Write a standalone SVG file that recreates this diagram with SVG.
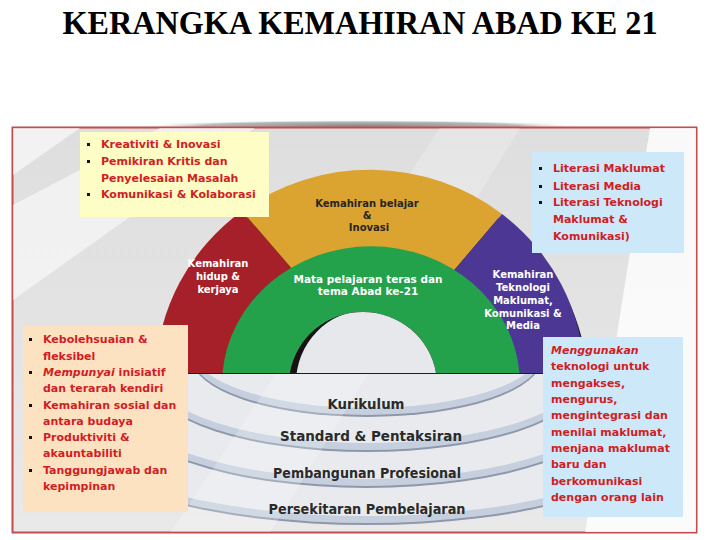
<svg xmlns="http://www.w3.org/2000/svg" width="720" height="540" viewBox="0 0 720 540">
  <defs>
    <style>
      .title{font-family:"Liberation Serif","Times New Roman",serif;font-weight:bold;font-size:33px;fill:#000}
      .bx{font-family:"DejaVu Sans","Verdana",sans-serif;font-weight:bold;font-size:11px;fill:#d11d24}
      .lbl{font-family:"DejaVu Sans","Verdana",sans-serif;font-weight:bold;fill:#fff;text-anchor:middle}
      .dk{fill:#262626}
      .plat{font-family:"DejaVu Sans","Verdana",sans-serif;font-weight:bold;font-size:14px;fill:#2a2a2a;text-anchor:middle}
      .face{fill:#e8eaee}
      .rim{fill:#c5cfde}
      .shd{fill:#8e98aa}
      .bul{fill:#111}
    </style>
    <linearGradient id="bg" x1="0" y1="0" x2="0" y2="1">
      <stop offset="0" stop-color="#dedede"/>
      <stop offset="1" stop-color="#e9e9e9"/>
    </linearGradient>
    <radialGradient id="topShadow" cx="0.5" cy="0.5" r="0.5">
      <stop offset="0" stop-color="#8a8a8a"/>
      <stop offset="0.7" stop-color="#b8b8b8"/>
      <stop offset="1" stop-color="#ffffff" stop-opacity="0"/>
    </radialGradient>
    <clipPath id="frameClip"><rect x="13" y="128" width="683" height="404"/></clipPath>
    <clipPath id="holeClip"><path d="M290,373 A74 73 0 0 1 436,373 Z"/></clipPath>
  </defs>

  <rect width="720" height="540" fill="#fff"/>

  <g id="title">
    <text class="title" x="360" y="34" text-anchor="middle" textLength="595" lengthAdjust="spacingAndGlyphs">KERANGKA KEMAHIRAN ABAD KE 21</text>
  </g>

  <ellipse cx="360" cy="126" rx="225" ry="6" fill="url(#topShadow)"/>

  <g id="frame">
    <rect x="12.5" y="127.5" width="684" height="405" fill="url(#bg)" stroke="#c44b4b" stroke-width="2"/>
    <g clip-path="url(#frameClip)" fill="#fff">
      <polygon points="13,205 13,300 255,128 160,128" opacity="0.55"/>
      <polygon points="13,128 13,175 80,128" opacity="0.6"/>
      <polygon points="585,533 697,533 697,128 650,128" opacity="0.8"/>
    </g>
  </g>

  <g id="platforms">
    <g id="tier4">
      <ellipse class="shd" cx="367" cy="441" rx="285" ry="84"/>
      <ellipse class="rim" cx="367" cy="439" rx="285" ry="84"/>
      <ellipse class="face" cx="367" cy="432" rx="285" ry="84"/>
    </g>
    <g id="tier3">
      <ellipse class="shd" cx="367" cy="403" rx="250" ry="85"/>
      <ellipse class="rim" cx="367" cy="401" rx="250" ry="85"/>
      <ellipse class="face" cx="367" cy="394" rx="250" ry="85"/>
    </g>
    <g id="tier2">
      <ellipse class="shd" cx="367" cy="381" rx="215" ry="71"/>
      <ellipse class="rim" cx="367" cy="379" rx="215" ry="71"/>
      <ellipse class="face" cx="367" cy="372" rx="215" ry="71"/>
    </g>
    <g id="tier1">
      <ellipse class="shd" cx="367" cy="358" rx="175" ry="59"/>
      <ellipse class="rim" cx="367" cy="356" rx="175" ry="59"/>
      <ellipse class="face" cx="367" cy="349" rx="175" ry="59"/>
    </g>
    <g clip-path="url(#frameClip)">
      <polygon points="170,533 270,533 520,128 440,128" fill="#fff" opacity="0.22"/>
    </g>
    <text class="plat" x="366" y="409" textLength="77" lengthAdjust="spacingAndGlyphs">Kurikulum</text>
    <text class="plat" x="371" y="441" textLength="182" lengthAdjust="spacingAndGlyphs">Standard &amp; Pentaksiran</text>
    <text class="plat" x="367" y="478" textLength="188" lengthAdjust="spacingAndGlyphs">Pembangunan Profesional</text>
    <text class="plat" x="367" y="514" textLength="197" lengthAdjust="spacingAndGlyphs">Persekitaran Pembelajaran</text>
  </g>

  <g id="arch">
    <path d="M155.5,373 A215 210 0 0 1 584.5,373 Z" fill="#1e1e1e" transform="translate(3,1)"/>
    <path id="seg-red" d="M155.5,373 A215 210 0 0 1 242,211 L300,278 L300,373 Z" fill="#a6202a"/>
    <path id="seg-yellow" d="M242,211 A215 210 0 0 1 502,214 L445,281 L300,278 Z" fill="#dba330"/>
    <path id="seg-purple" d="M502,214 A215 210 0 0 1 584.5,373 L445,373 L445,281 Z" fill="#4d3794"/>
    <g id="seg-green">
      <path d="M222.5,373 A149 138 0 0 1 519.5,373 L436,373 A74 73 0 0 0 290,373 Z" fill="#23a14b"/>
      <g clip-path="url(#holeClip)">
        <rect x="285" y="300" width="160" height="73" fill="#141414"/>
        <ellipse cx="368" cy="383" rx="72" ry="73" fill="#e6e8ec"/>
      </g>
    </g>
    <g id="label-red">
      <text class="lbl" font-size="10" x="218" y="267">Kemahiran</text>
      <text class="lbl" font-size="10" x="218" y="280">hidup &amp;</text>
      <text class="lbl" font-size="10" x="218" y="293">kerjaya</text>
    </g>
    <g id="label-yellow">
      <text class="lbl dk" font-size="10" x="367" y="207">Kemahiran belajar</text>
      <text class="lbl dk" font-size="10" x="367" y="219">&amp;</text>
      <text class="lbl dk" font-size="10" x="369" y="231">Inovasi</text>
    </g>
    <g id="label-purple">
      <text class="lbl" font-size="10" x="523" y="278">Kemahiran</text>
      <text class="lbl" font-size="10" x="523" y="291">Teknologi</text>
      <text class="lbl" font-size="10" x="523" y="304">Maklumat,</text>
      <text class="lbl" font-size="10" x="523" y="317">Komunikasi &amp;</text>
      <text class="lbl" font-size="10" x="523" y="329">Media</text>
    </g>
    <g id="label-green">
      <text class="lbl" font-size="10.5" x="368" y="283">Mata pelajaran teras dan</text>
      <text class="lbl" font-size="10.5" x="368" y="295">tema Abad ke-21</text>
    </g>
  </g>

  <g id="box-learning">
    <rect x="80" y="132" width="189" height="85" fill="#fffdc6"/>
    <rect class="bul" x="87" y="143" width="3" height="3"/>
    <rect class="bul" x="87" y="160" width="3" height="3"/>
    <rect class="bul" x="87" y="193" width="3" height="3"/>
    <text class="bx" x="101" y="148">Kreativiti &amp; Inovasi</text>
    <text class="bx" x="101" y="165">Pemikiran Kritis dan</text>
    <text class="bx" x="101" y="182">Penyelesaian Masalah</text>
    <text class="bx" x="101" y="198">Komunikasi &amp; Kolaborasi</text>
  </g>

  <g id="box-literacy">
    <rect x="532" y="152" width="152" height="101" fill="#cde9f9"/>
    <rect class="bul" x="539" y="167" width="3" height="3"/>
    <rect class="bul" x="539" y="185" width="3" height="3"/>
    <rect class="bul" x="539" y="201" width="3" height="3"/>
    <text class="bx" x="553" y="172">Literasi Maklumat</text>
    <text class="bx" x="553" y="190">Literasi Media</text>
    <text class="bx" x="553" y="206">Literasi Teknologi</text>
    <text class="bx" x="553" y="223">Maklumat &amp;</text>
    <text class="bx" x="553" y="240">Komunikasi)</text>
  </g>

  <g id="box-life">
    <rect x="23" y="325" width="165" height="187" fill="#fde2c2"/>
    <rect class="bul" x="29" y="338" width="3" height="3"/>
    <rect class="bul" x="29" y="371" width="3" height="3"/>
    <rect class="bul" x="29" y="404" width="3" height="3"/>
    <rect class="bul" x="29" y="436" width="3" height="3"/>
    <rect class="bul" x="29" y="469" width="3" height="3"/>
    <text class="bx" x="43" y="343">Kebolehsuaian &amp;</text>
    <text class="bx" x="43" y="360">fleksibel</text>
    <text class="bx" x="43" y="376"><tspan font-style="italic">Mempunyai</tspan> inisiatif</text>
    <text class="bx" x="43" y="392">dan terarah kendiri</text>
    <text class="bx" x="43" y="409">Kemahiran sosial dan</text>
    <text class="bx" x="43" y="425">antara budaya</text>
    <text class="bx" x="43" y="441">Produktiviti &amp;</text>
    <text class="bx" x="43" y="457">akauntabiliti</text>
    <text class="bx" x="43" y="474">Tanggungjawab dan</text>
    <text class="bx" x="43" y="490">kepimpinan</text>
  </g>

  <g id="box-ict">
    <rect x="543" y="337" width="140" height="180" fill="#cde9f9"/>
    <text class="bx" x="551" y="354" font-style="italic">Menggunakan</text>
    <text class="bx" x="551" y="370">teknologi untuk</text>
    <text class="bx" x="551" y="387">mengakses,</text>
    <text class="bx" x="551" y="403">mengurus,</text>
    <text class="bx" x="551" y="419">mengintegrasi dan</text>
    <text class="bx" x="551" y="436">menilai maklumat,</text>
    <text class="bx" x="551" y="452">menjana maklumat</text>
    <text class="bx" x="551" y="468">baru dan</text>
    <text class="bx" x="551" y="485">berkomunikasi</text>
    <text class="bx" x="551" y="501">dengan orang lain</text>
  </g>
</svg>
